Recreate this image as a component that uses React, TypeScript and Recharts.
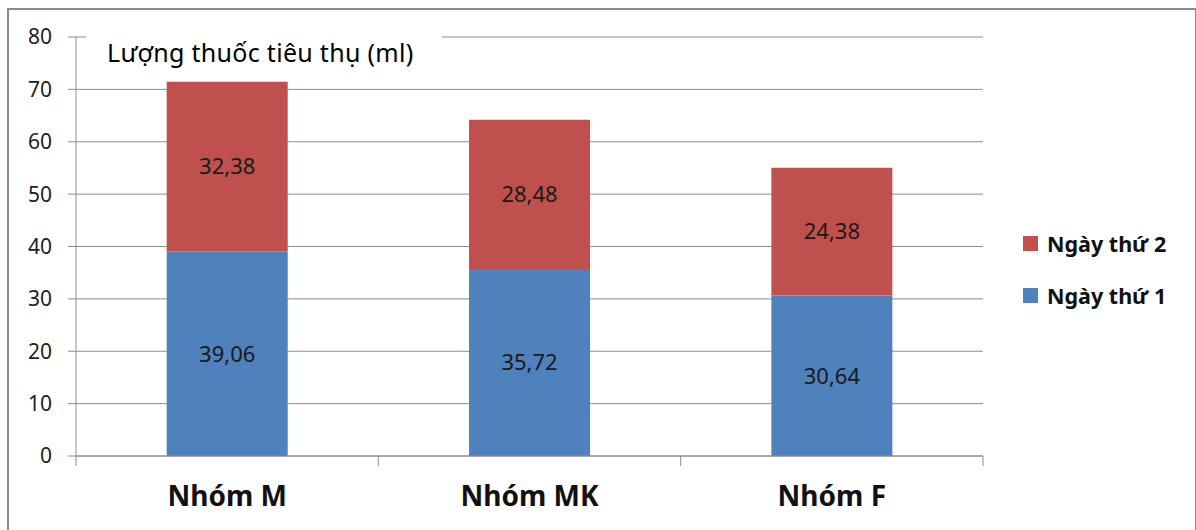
import React from 'react'
import { BarChart, Bar, XAxis, YAxis, CartesianGrid, LabelList, Legend } from 'recharts'

const GROUPS = ['Nhóm M', 'Nhóm MK', 'Nhóm F']
const DAY1 = [39.06, 35.72, 30.64]
const DAY2 = [32.38, 28.48, 24.38]
const Y_TICKS = [0, 10, 20, 30, 40, 50, 60, 70, 80]
const TITLE = 'Lượng thuốc tiêu thụ (ml)'

const SERIES = [
  { key: 'day2', name: 'Ngày thứ 2', color: '#C0504D' },
  { key: 'day1', name: 'Ngày thứ 1', color: '#4F81BD' },
]

const data = GROUPS.map((g, i) => ({ group: g, day1: DAY1[i], day2: DAY2[i] }))

const fmt = (v: unknown) => Number(v).toFixed(2).replace('.', ',')
const GRID = '#8c8c8c'
const FONT = '"Noto Sans", sans-serif'
const LABEL_GAP = 30

// category label + tick marks on the band edges (like Excel)
function GroupTick(props: any) {
  const { x, y, payload, index } = props
  const half = payload?.offset ?? 0
  const axisY = y - LABEL_GAP
  return (
    <g>
      {index === 0 && <line x1={x - half} x2={x - half} y1={axisY} y2={axisY + 10} stroke={GRID} />}
      <line x1={x + half} x2={x + half} y1={axisY} y2={axisY + 10} stroke={GRID} />
      <text x={x} y={y} dy="0.71em" textAnchor="middle" fontSize={28} fontWeight={700} fill="#111">
        {payload.value}
      </text>
    </g>
  )
}

function LegendBox() {
  return (
    <div style={{ fontFamily: FONT }}>
      {SERIES.map(s => (
        <div key={s.key} style={{ display: 'flex', alignItems: 'center', height: 26, marginBottom: 26 }}>
          <span style={{ width: 15, height: 15, background: s.color, display: 'inline-block', marginRight: 9 }} />
          <span style={{ fontSize: 21.5, fontWeight: 700, color: '#111' }}>{s.name}</span>
        </div>
      ))}
    </div>
  )
}

export default function App() {
  return (
    <div style={{ position: 'absolute', left: 0, top: 0, width: 1196, height: 530, background: '#fff', fontFamily: FONT, overflow: 'hidden' }}>
      <div style={{ position: 'absolute', left: 7, top: 8, width: 1190, height: 540, border: '2px solid #8a8a8a', boxSizing: 'border-box' }} />
      <BarChart width={1196} height={530} data={data} margin={{ top: 37, right: 213, left: 0, bottom: 0 }}
        barCategoryGap="30%">
        <CartesianGrid vertical={false} stroke={GRID} />
        <XAxis dataKey="group" height={74} axisLine={{ stroke: GRID }} tickLine={false} tickSize={0}
          tickMargin={LABEL_GAP} tick={<GroupTick />} />
        <YAxis width={76} domain={[0, 80]} ticks={Y_TICKS} interval={0} tickSize={8} tickMargin={16}
          stroke={GRID} tick={{ fontSize: 21, fill: '#222' }} />
        <Legend layout="vertical" align="center" verticalAlign="middle" content={() => <LegendBox />}
          wrapperStyle={{ left: 1023, top: 230, width: 170 }} />
        <Bar dataKey="day1" stackId="a" fill="#4F81BD" isAnimationActive={false}>
          <LabelList dataKey="day1" position="center" formatter={fmt} style={{ fontSize: 22, fill: '#1a1a1a' }} />
        </Bar>
        <Bar dataKey="day2" stackId="a" fill="#C0504D" isAnimationActive={false}>
          <LabelList dataKey="day2" position="center" formatter={fmt} style={{ fontSize: 22, fill: '#1a1a1a' }} />
        </Bar>
      </BarChart>
      <div style={{ position: 'absolute', left: 86, top: 30, width: 356, height: 44, background: '#fff', boxSizing: 'border-box',
        paddingLeft: 21, paddingTop: 8, fontSize: 25, letterSpacing: 0.3, color: '#000', lineHeight: '28px', whiteSpace: 'nowrap' }}>
        {TITLE}
      </div>
    </div>
  )
}
